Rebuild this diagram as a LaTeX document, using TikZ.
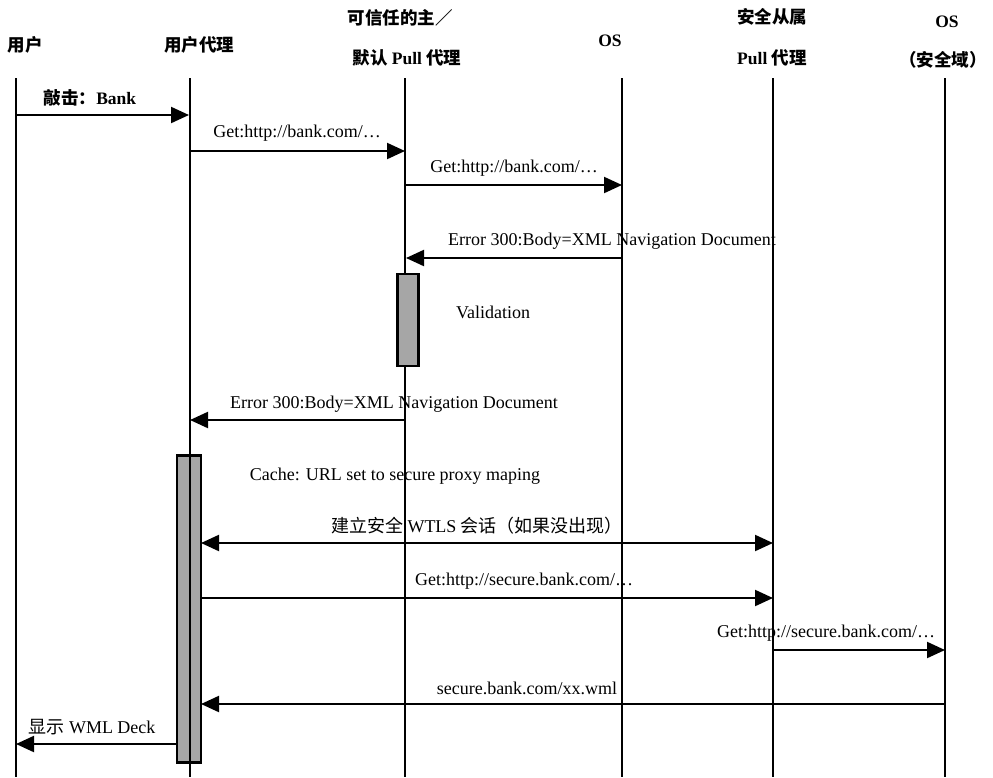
\documentclass[tikz,border=0pt]{standalone}
\usepackage{fontspec}
\setmainfont{Liberation Serif}
\newfontfamily\cjk{Noto Sans CJK SC}
\usetikzlibrary{arrows.meta}
\begin{document}
\begin{tikzpicture}[x=1pt,y=-1pt,
  life/.style={line width=1.9pt},
  msg/.style={line width=2.1pt,-{Triangle[length=18pt,width=16pt]}},
  twoway/.style={line width=2.1pt,{Triangle[length=18pt,width=16pt]}-{Triangle[length=18pt,width=16pt]}},
  actbar/.style={draw=black,line width=2.8pt,fill=black!35},
  hdr/.style={font=\fontsize{17.5}{19}\selectfont\bfseries,inner sep=0pt},
  lbl/.style={font=\fontsize{18}{20}\selectfont,inner sep=0pt}]
\useasboundingbox (0,0) rectangle (993,777);
% headers
\node[hdr] (hU) at (25,45) {{\cjk 用户}};
\node[hdr] (hUA) at (199,45) {{\cjk 用户代理}};
\node[hdr] (hP1) at (400,18) {{\cjk 可信任的主／}};
\node[hdr] (hP2) at (407,58) {{\cjk 默认} Pull {\cjk 代理}};
\node[hdr] (hOS) at (610,41) {OS};
\node[hdr] (hS1) at (772,17) {{\cjk 安全从属}};
\node[hdr] (hS2) at (772,58) {Pull {\cjk 代理}};
\node[hdr] (hO1) at (947,22) {OS};
\node[hdr] (hO2) at (943,60) {{\cjk （安全域）}};
% lifeline ends
\coordinate (uT) at (16,78);   \coordinate (uB) at (16,777);
\coordinate (aT) at (190,78);  \coordinate (aB) at (190,777);
\coordinate (pT) at (405,78);  \coordinate (pB) at (405,777);
\coordinate (oT) at (622,78);  \coordinate (oB) at (622,777);
\coordinate (sT) at (773,78);  \coordinate (sB) at (773,777);
\coordinate (qT) at (945,78);  \coordinate (qB) at (945,777);
% user agent activation bar
\node[actbar,minimum width=24pt,minimum height=307pt,inner sep=0pt] (barA) at (189,609) {};
% lifelines
\draw[life] (uT) -- (uB);
\draw[life] (aT) -- (aB);
\draw[life] (pT) -- (pB);
\draw[life] (oT) -- (oB);
\draw[life] (sT) -- (sB);
\draw[life] (qT) -- (qB);
% validation bar
\node[actbar,minimum width=21pt,minimum height=92pt,inner sep=0pt] (barV) at (408,320) {};
% message end points
\coordinate (m1a) at (16,115);  \coordinate (m1b) at (189,115);
\coordinate (m2a) at (190,151); \coordinate (m2b) at (405,151);
\coordinate (m3a) at (405,185); \coordinate (m3b) at (622,185);
\coordinate (m4a) at (622,258); \coordinate (m4b) at (406,258);
\coordinate (m5a) at (405,420); \coordinate (m5b) at (190,420);
\coordinate (m6a) at (201,543); \coordinate (m6b) at (773,543);
\coordinate (m7a) at (201,598); \coordinate (m7b) at (773,598);
\coordinate (m8a) at (773,650); \coordinate (m8b) at (945,650);
\coordinate (m9a) at (945,704); \coordinate (m9b) at (201,704);
\coordinate (m10a) at (177,744); \coordinate (m10b) at (16,744);
% messages
\draw[msg] (m1a) -- (m1b);
\draw[msg] (m2a) -- (m2b);
\draw[msg] (m3a) -- (m3b);
\draw[msg] (m4a) -- (m4b);
\draw[msg] (m5a) -- (m5b);
\draw[twoway] (m6a) -- (m6b);
\draw[msg] (m7a) -- (m7b);
\draw[msg] (m8a) -- (m8b);
\draw[msg] (m9a) -- (m9b);
\draw[msg] (m10a) -- (m10b);
% labels
\node[lbl,font=\fontsize{17.5}{19}\selectfont\bfseries] (l1) at (90,98) {{\cjk 敲击：}Bank};
\node[lbl] (l2) at (297,133) {Get:http://bank.com/…};
\node[lbl] (l3) at (514,168) {Get:http://bank.com/…};
\node[lbl] (l4) at (612,241) {Error 300:Body=XML Navigation Document};
\node[lbl] (l5) at (493,312) {Validation};
\node[lbl] (l6) at (394,404) {Error 300:Body=XML Navigation Document};
\node[lbl] (l7) at (395,476) {Cache: URL set to secure proxy maping};
\node[lbl] (l8) at (477,526) {{\cjk 建立安全} WTLS {\cjk 会话（如果没出现）}};
\node[lbl] (l9) at (524,581) {Get:http://secure.bank.com/…};
\node[lbl] (l10) at (826,633) {Get:http://secure.bank.com/…};
\node[lbl] (l11) at (527,688) {secure.bank.com/xx.wml};
\node[lbl] (l12) at (92,727) {{\cjk 显示} WML Deck};
\end{tikzpicture}
\end{document}
